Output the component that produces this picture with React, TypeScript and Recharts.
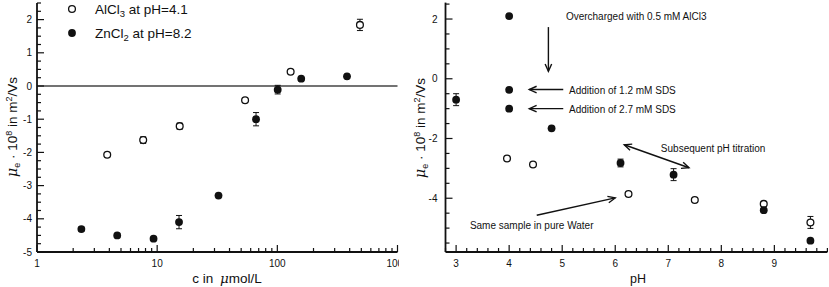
import React from 'react';
import { ScatterChart, Scatter, XAxis, YAxis, ErrorBar, ReferenceLine, ReferenceDot } from 'recharts';

// left panel: mobility vs salt concentration
const alConc = [3.84, 7.65, 15.4, 53.9, 129, 487];
const alMob = [-2.07, -1.63, -1.21, -0.43, 0.43, 1.84];
const alErr = [0.06, 0.1, 0.09, 0, 0, 0.17];
const znConc = [2.34, 4.65, 9.33, 15.2, 32.4, 66.5, 100.7, 158, 380];
const znMob = [-4.31, -4.5, -4.6, -4.1, -3.3, -1.0, -0.11, 0.22, 0.29];
const znErr = [0.06, 0.05, 0.05, 0.2, 0, 0.2, 0.13, 0, 0];

// right panel: mobility vs pH
const phFilled = [3.0, 4.0, 4.0, 4.0, 4.8, 6.1, 7.1, 8.8, 9.68];
const mobFilled = [-0.7, 2.1, -0.37, -1.0, -1.66, -2.82, -3.21, -4.4, -5.42];
const errFilled = [0.2, 0, 0, 0, 0, 0.13, 0.2, 0.05, 0];
const phOpen = [3.96, 4.45, 6.25, 7.5, 8.8, 9.68];
const mobOpen = [-2.67, -2.87, -3.86, -4.06, -4.19, -4.81];
const errOpen = [0, 0, 0, 0, 0.06, 0.2];

const leftXMajor = [1, 10, 100, 1000];
const leftYMajor = [-5, -4, -3, -2, -1, 0, 1, 2];
const rightXMajor = [3, 4, 5, 6, 7, 8, 9];
const rightYMajor = [-4, -2, 0, 2];

const leftXTicks = [1, 2, 3, 4, 5, 6, 7, 8, 9, 10, 20, 30, 40, 50, 60, 70, 80, 90, 100, 200, 300, 400, 500, 600, 700, 800, 900, 1000];
const leftYTicks: number[] = [];
for (let v = -5; v <= 2.5; v += 0.25) leftYTicks.push(v);
const rightXTicks: number[] = [];
for (let i = 14; i <= 50; i++) rightXTicks.push(i / 5);
const rightYTicks: number[] = [];
for (let v = -5.5; v <= 2.5; v += 0.5) rightYTicks.push(v);

const notes = [
  { text: 'Overcharged with 0.5 mM AlCl3', x: 5.07, y: 2.09, from: [4.74, 1.73], to: [4.74, 0.25], both: false },
  { text: 'Addition of 1.2 mM SDS', x: 5.13, y: -0.39, from: [5.02, -0.36], to: [4.38, -0.36], both: false },
  { text: 'Addition of 2.7 mM SDS', x: 5.13, y: -1.03, from: [5.02, -1.0], to: [4.38, -1.0], both: false },
  { text: 'Subsequent pH titration', x: 6.86, y: -2.33, from: [6.17, -2.21], to: [7.39, -2.98], both: true },
  { text: 'Same sample in pure Water', x: 3.26, y: -4.92, from: [4.52, -4.57], to: [6.0, -3.99], both: false },
];

const zip = (xs: number[], ys: number[], es: number[]) =>
  xs.map((x, i) => ({ x, y: ys[i], err: es[i] || undefined }));

const alData = zip(alConc, alMob, alErr);
const znData = zip(znConc, znMob, znErr);
const filledData = zip(phFilled, mobFilled, errFilled);
const openData = zip(phOpen, mobOpen, errOpen);

const FONT = '"Liberation Sans", Arial, sans-serif';
const INK = '#111';

const openDot = (p: any) => <circle cx={p.cx} cy={p.cy} r={3.4} fill="#fff" stroke={INK} strokeWidth={1.3} />;
const fullDot = (p: any) => <circle cx={p.cx} cy={p.cy} r={3.9} fill={INK} />;

const near = (v: number, list: number[]) => list.some((m) => Math.abs(m - v) < 1e-6);

const makeXTick = (major: number[]) => (p: any) => {
  const v = p.payload.value;
  const isMajor = near(v, major);
  return (
    <g>
      <line x1={p.x} y1={p.y} x2={p.x} y2={p.y - (isMajor ? 7 : 4)} stroke={INK} strokeWidth={1.2} />
      {isMajor && (
        <text x={p.x} y={p.y + 15} textAnchor="middle" fontSize={10} fontFamily={FONT} fill={INK}>
          {v}
        </text>
      )}
    </g>
  );
};

const makeYTick = (major: number[], gap: number) => (p: any) => {
  const v = p.payload.value;
  const isMajor = near(v, major);
  return (
    <g>
      <line x1={p.x} y1={p.y} x2={p.x + (isMajor ? 7 : 4)} y2={p.y} stroke={INK} strokeWidth={1.2} />
      {isMajor && (
        <text x={p.x - gap} y={p.y + 3.5} textAnchor="end" fontSize={10} fontFamily={FONT} fill={INK}>
          {v}
        </text>
      )}
    </g>
  );
};

const MobilityTitle = ({ x, y }: { x: number; y: number }) => (
  <text transform={`translate(${x},${y}) rotate(-90)`} textAnchor="middle" fontSize={13.5} fontFamily={FONT} fill={INK}>
    <tspan fontStyle="italic" fontFamily="DejaVu Serif" fontSize={14}>μ</tspan>
    <tspan fontSize={9} dy={3}>e</tspan>
    <tspan dy={-3}> · 10</tspan>
    <tspan fontSize={9} dy={-5}>8</tspan>
    <tspan dy={5}> in m</tspan>
    <tspan fontSize={9} dy={-5}>2</tspan>
    <tspan dy={5}>/Vs</tspan>
  </text>
);

const arrowHead = (xa: number, ya: number, xb: number, yb: number) => {
  const a = Math.atan2(yb - ya, xb - xa);
  const len = 8;
  const s = 0.42;
  return `M${xb - len * Math.cos(a - s)},${yb - len * Math.sin(a - s)} L${xb},${yb} L${xb - len * Math.cos(a + s)},${yb - len * Math.sin(a + s)}`;
};

const arrowShape = (both: boolean) => (p: any) => (
  <g>
    <line x1={p.x1} y1={p.y1} x2={p.x2} y2={p.y2} stroke={INK} strokeWidth={1.4} />
    <path d={arrowHead(p.x1, p.y1, p.x2, p.y2)} fill="none" stroke={INK} strokeWidth={1.4} />
    {both && <path d={arrowHead(p.x2, p.y2, p.x1, p.y1)} fill="none" stroke={INK} strokeWidth={1.4} />}
  </g>
);

const Legend = () => (
  <svg width={220} height={45} style={{ position: 'absolute', left: 0, top: 0 }}>
    <circle cx={72} cy={9} r={3.4} fill="#fff" stroke={INK} strokeWidth={1.3} />
    <text x={95} y={13.5} fontSize={13.5} fontFamily={FONT} fill={INK}>
      AlCl<tspan fontSize={9.5} dy={3}>3</tspan><tspan dy={-3}> at pH=4.1</tspan>
    </text>
    <circle cx={72} cy={33} r={3.9} fill={INK} />
    <text x={95} y={37.5} fontSize={13.5} fontFamily={FONT} fill={INK}>
      ZnCl<tspan fontSize={9.5} dy={3}>2</tspan><tspan dy={-3}> at pH=8.2</tspan>
    </text>
  </svg>
);

export default function App() {
  return (
    <div style={{ position: 'absolute', left: 0, top: 0, width: 829, height: 287, background: '#fff' }}>
      <div style={{ position: 'absolute', left: 0, top: 0, width: 399, height: 287, overflow: 'hidden' }}>
        <ScatterChart width={400} height={287} margin={{ top: 3, right: 2.5, left: 0, bottom: 0 }}>
          <XAxis
            type="number"
            dataKey="x"
            scale="log"
            domain={[1, 1000]}
            ticks={leftXTicks}
            interval={0}
            allowDataOverflow
            height={35}
            tickSize={0}
            tickMargin={0}
            tickLine={false}
            axisLine={{ stroke: INK, strokeWidth: 1.8 }}
            tick={makeXTick(leftXMajor)}
            label={{
              content: () => (
                <text x={227} y={283} textAnchor="middle" fontSize={13.5} fontFamily={FONT} fill={INK}>
                  c in <tspan fontStyle="italic" fontFamily="DejaVu Serif" dx={3}>μ</tspan>mol/L
                </text>
              ),
            }}
          />
          <YAxis
            type="number"
            dataKey="y"
            domain={[-5, 2.5]}
            ticks={leftYTicks}
            interval={0}
            allowDataOverflow
            width={37}
            tickSize={0}
            tickMargin={0}
            tickLine={false}
            axisLine={{ stroke: INK, strokeWidth: 1.8 }}
            tick={makeYTick(leftYMajor, 5)}
            label={{ content: () => <MobilityTitle x={17} y={127} /> }}
          />
          <ReferenceLine y={0} stroke="#444" strokeWidth={1.3} />
          <Scatter name="AlCl3 at pH=4.1" data={alData} shape={openDot} isAnimationActive={false}>
            <ErrorBar dataKey="err" direction="y" width={3} stroke={INK} strokeWidth={1} />
          </Scatter>
          <Scatter name="ZnCl2 at pH=8.2" data={znData} shape={fullDot} isAnimationActive={false}>
            <ErrorBar dataKey="err" direction="y" width={3} stroke={INK} strokeWidth={1} />
          </Scatter>
        </ScatterChart>
        <Legend />
      </div>
      <div style={{ position: 'absolute', left: 400, top: 0, width: 429, height: 287 }}>
        <ScatterChart width={429} height={287} margin={{ top: 2.6, right: 1.6, left: 0, bottom: 0 }}>
          <XAxis
            type="number"
            dataKey="x"
            domain={[2.8, 10]}
            ticks={rightXTicks}
            interval={0}
            allowDataOverflow
            height={35}
            tickSize={0}
            tickMargin={0}
            tickLine={false}
            axisLine={{ stroke: INK, strokeWidth: 1.8 }}
            tick={makeXTick(rightXMajor)}
            label={{
              content: () => (
                <text x={238} y={283} textAnchor="middle" fontSize={12.5} fontFamily={FONT} fill={INK}>
                  pH
                </text>
              ),
            }}
          />
          <YAxis
            type="number"
            dataKey="y"
            domain={[-5.8, 2.55]}
            ticks={rightYTicks}
            interval={0}
            allowDataOverflow
            width={45.5}
            tickSize={0}
            tickMargin={0}
            tickLine={false}
            axisLine={{ stroke: INK, strokeWidth: 1.8 }}
            tick={makeYTick(rightYMajor, 8)}
            label={{ content: () => <MobilityTitle x={25} y={128} /> }}
          />
          {notes.map((n) => (
            <ReferenceLine
              key={'a' + n.text}
              segment={[
                { x: n.from[0], y: n.from[1] },
                { x: n.to[0], y: n.to[1] },
              ]}
              shape={arrowShape(n.both)}
            />
          ))}
          {notes.map((n) => (
            <ReferenceDot
              key={'t' + n.text}
              x={n.x}
              y={n.y}
              r={0}
              shape={(p: any) => (
                <text x={p.cx} y={p.cy + 3.5} fontSize={10} fontFamily={FONT} fill={INK}>
                  {n.text}
                </text>
              )}
            />
          ))}
          <Scatter name="open" data={openData} shape={openDot} isAnimationActive={false}>
            <ErrorBar dataKey="err" direction="y" width={3} stroke={INK} strokeWidth={1} />
          </Scatter>
          <Scatter name="filled" data={filledData} shape={fullDot} isAnimationActive={false}>
            <ErrorBar dataKey="err" direction="y" width={3} stroke={INK} strokeWidth={1} />
          </Scatter>
        </ScatterChart>
      </div>
    </div>
  );
}
